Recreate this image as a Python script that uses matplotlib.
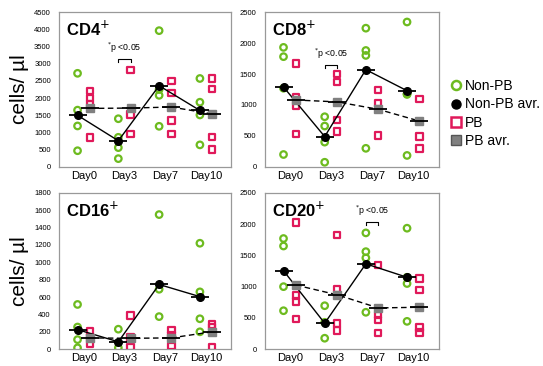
import numpy as np
import matplotlib
matplotlib.use("Agg")
import matplotlib.pyplot as plt
from matplotlib.lines import Line2D

plt.rcParams['font.family'] = ['Liberation Sans', 'DejaVu Sans']

DAYS = ["Day0", "Day3", "Day7", "Day10"]

# ---- CD4 ----
cd4_nonpb = [[2720, 1650, 1190, 470],
             [1400, 860, 560, 240],
             [3960, 2250, 2080, 1180],
             [2570, 1880, 1510, 640]]
cd4_nonpb_avr = [1500, 760, 2360, 1640]
cd4_pb = [[2200, 2000, 1830, 860],
          [2820, 1530, 960],
          [2500, 2150, 1350, 960],
          [2570, 2260, 870, 500]]
cd4_pb_avr = [1700, 1710, 1740, 1540]

# ---- CD8 ----
cd8_nonpb = [[1930, 1780, 1270, 200],
             [810, 660, 400, 75],
             [2240, 1880, 1800, 300],
             [2340, 1180, 1170, 185]]
cd8_nonpb_avr = [1290, 490, 1570, 1230]
cd8_pb = [[1670, 1120, 990, 530],
          [1500, 1370, 760, 570],
          [1240, 1030, 510],
          [1100, 490, 300]]
cd8_pb_avr = [1080, 1050, 930, 740]

# ---- CD16 ----
cd16_nonpb = [[515, 255, 110, 15],
              [230, 15],
              [1550, 690, 375],
              [1220, 660, 350, 200]]
cd16_nonpb_avr = [225, 85, 745, 605]
cd16_pb = [[205, 140, 65],
           [385, 135, 25],
           [220, 160, 35],
           [285, 255, 25]]
cd16_pb_avr = [130, 125, 130, 200]

# ---- CD20 ----
cd20_nonpb = [[1770, 1650, 1000, 615],
              [695, 430, 175],
              [1860, 1560, 1460, 590],
              [1935, 1150, 1050, 445]]
cd20_nonpb_avr = [1255, 415, 1365, 1150]
cd20_pb = [[2030, 855, 765, 480],
           [1830, 960, 410, 295],
           [1350, 550, 470, 255],
           [1130, 945, 345, 265]]
cd20_pb_avr = [1025, 870, 660, 670]

GREEN = "#6dbb1f"
RED = "#e0195a"
GRAY = "#808080"
OFF = 0.15


def panel(ax, title, nonpb, nonpb_avr, pb, pb_avr, ymax, ystep, sig=None):
    x = np.arange(len(DAYS))
    for i in range(len(DAYS)):
        ax.scatter([x[i] - OFF] * len(nonpb[i]), nonpb[i], s=22, facecolors="none",
                   edgecolors=GREEN, linewidths=1.6, zorder=3)
        ax.scatter([x[i] + OFF] * len(pb[i]), pb[i], s=22, marker="s", facecolors="none",
                   edgecolors=RED, linewidths=1.6, zorder=3)
    ax.plot(x - OFF, nonpb_avr, color="black", lw=1.0, zorder=4)
    ax.plot(x - OFF, nonpb_avr, "o", color="black", ms=5.5, zorder=5)
    ax.plot(x - OFF, nonpb_avr, "_", color="black", ms=13, mew=1.3, zorder=6)
    ax.plot(x + OFF, pb_avr, "--", color="black", lw=1.0, dashes=(4, 2.5), zorder=4)
    ax.plot(x + OFF, pb_avr, "s", color=GRAY, ms=5.5, zorder=5)
    ax.plot(x + OFF, pb_avr, "_", color="black", ms=13, mew=1.3, zorder=6)

    ax.set_xlim(-0.6, 3.62)
    ax.set_ylim(0, ymax)
    ax.set_yticks(np.arange(0, ymax + 1, ystep))
    ax.set_xticks(x)
    ax.set_xticklabels(DAYS, fontsize=8)
    ax.tick_params(axis="y", labelsize=5.5, length=0, pad=6)
    ax.tick_params(axis="x", length=0, pad=3)
    for sp in ax.spines.values():
        sp.set_color("#999999")
        sp.set_linewidth(0.9)
    ax.text(0.04, 0.95, title, transform=ax.transAxes, fontsize=12, fontweight="bold",
            va="top", ha="left")
    if sig is not None:
        d, yb = sig
        h = ymax * 0.02
        ax.plot([d - OFF, d - OFF, d + OFF, d + OFF], [yb - h, yb, yb, yb - h],
                color="black", lw=0.8)
        ax.text(d, yb + ymax * 0.025, "$^{*}$p <0.05", fontsize=6.3, ha="center", va="bottom")


fig = plt.figure(figsize=(5.43, 3.66), dpi=100)
ax1 = fig.add_axes([0.109, 0.544, 0.317, 0.423])
ax2 = fig.add_axes([0.488, 0.544, 0.32, 0.423])
ax3 = fig.add_axes([0.109, 0.046, 0.317, 0.427])
ax4 = fig.add_axes([0.488, 0.046, 0.32, 0.427])

panel(ax1, "CD4$^{+}$", cd4_nonpb, cd4_nonpb_avr, cd4_pb, cd4_pb_avr, 4500, 500, sig=(1, 3150))
panel(ax2, "CD8$^{+}$", cd8_nonpb, cd8_nonpb_avr, cd8_pb, cd8_pb_avr, 2500, 500, sig=(1, 1650))
panel(ax3, "CD16$^{+}$", cd16_nonpb, cd16_nonpb_avr, cd16_pb, cd16_pb_avr, 1800, 200)
panel(ax4, "CD20$^{+}$", cd20_nonpb, cd20_nonpb_avr, cd20_pb, cd20_pb_avr, 2500, 500, sig=(2, 2030))

for ax in (ax1, ax3):
    ax.set_ylabel("cells/ \u00b5l", fontsize=15, labelpad=4)

handles = [
    Line2D([], [], ls="none", marker="o", ms=6.5, mfc="none", mec=GREEN, mew=1.8),
    Line2D([], [], ls="none", marker="o", ms=6.5, color="black"),
    Line2D([], [], ls="none", marker="s", ms=6.5, mfc="none", mec=RED, mew=1.8),
    Line2D([], [], ls="none", marker="s", ms=6.5, mfc=GRAY, mec="#555555"),
]
labels = ["Non-PB", "Non-PB avr.", "PB", "PB avr."]
fig.legend(handles, labels, loc="upper left", bbox_to_anchor=(0.81, 0.81), frameon=False,
           fontsize=10, handletextpad=0.1, labelspacing=0.3, handlelength=1.0,
           borderpad=0.2)

fig.savefig("out.png", dpi=100)
